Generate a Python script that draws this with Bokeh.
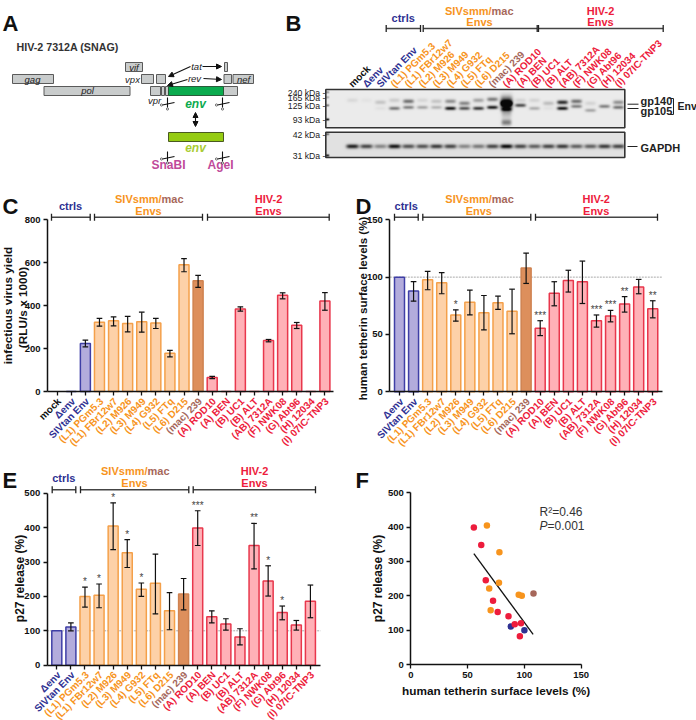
from bokeh.plotting import figure
from bokeh.embed import file_html
from bokeh.resources import INLINE
from bokeh.layouts import column, row
from bokeh.core.properties import value
from bokeh.models import Range1d, FixedTicker, LinearColorMapper, Arrow, NormalHead, LinearAxis
from bokeh.palettes import Greys256
import numpy as np

BLUE, ORANGE, BROWN, RED = "#2e3192", "#f7941d", "#a6675a", "#ed1c3c"
FILL = {BLUE: "#b3acdc", ORANGE: "#fdd1a8", BROWN: "#dd8f5c", RED: "#ffb1b7"}
EDGE = {BLUE: "#3f3fa6", ORANGE: "#f4a04a", BROWN: "#cf8250", RED: "#e8374c"}
FONT = "Liberation Sans"

lanes_all = ["mock", "Δenv", "SIVtan Env", "(L1) PGm5.3", "(L1) FBr12w7", "(L2) M926", "(L3) M949",
             "(L4) G932", "(L5) FTq", "(L6) D215", "(mac) 239", "(A) ROD10", "(A) BEN", "(B) UC1",
             "(B) ALT", "(AB) 7312A", "(F) NWK08", "(G) Abt96", "(H) 12034", "(I) 07IC-TNP3"]
colors_all = ["#111111", BLUE, BLUE] + [ORANGE] * 7 + [BROWN] + [RED] * 9

# panel C
yield_val = [0, 0, 223, 322, 329, 316, 325, 319, 178, 589, 515, 65, 0, 384, 0, 237, 448, 308, 0, 421]
yield_hi = [0, 0, 239, 340, 347, 349, 369, 340, 191, 618, 540, 70, 0, 394, 0, 242, 459, 321, 0, 460]
yield_lo = [0, 0, 208, 304, 305, 277, 276, 293, 161, 557, 484, 60, 0, 374, 0, 231, 431, 293, 0, 378]
# panel D
teth_val = [100, 88, 97.7, 95, 67, 78, 69, 77.6, 70.3, 108, 55.5, 86, 97, 96, 62, 66, 76.5, 91.5, 72.4]
teth_hi = [100, 96, 105, 104, 71.5, 88.7, 84, 83.4, 89.5, 121, 62, 96, 106, 114, 67, 71, 83, 98, 79.4]
teth_lo = [100, 79, 89, 85.5, 61.6, 67, 54, 71.8, 50.6, 94.5, 49, 75, 87, 77, 56.4, 61, 69.5, 85.5, 64.5]
teth_star = ["", "", "", "", "*", "", "", "", "", "", "***", "", "", "", "***", "***", "**", "", "**"]
# panel E
p27_val = [100, 111, 200, 203, 405, 327, 221, 238, 158, 207, 399, 140.5, 120, 82, 348, 245, 153, 117, 186]
p27_hi = [100, 123, 227, 236, 472, 365, 239, 323, 211, 252, 449, 158, 135, 106, 412, 289, 172, 130, 233]
p27_lo = [100, 100, 169, 167, 336, 284, 200, 149, 103, 161, 348, 123, 102, 59, 280, 201, 132, 102, 138]
p27_star = ["", "", "*", "*", "*", "*", "*", "", "", "", "***", "", "", "", "**", "*", "*", "", ""]
# panel F
trend_x = [55.5, 107.7]
trend_y = [323, 88]
# panel B: band strengths per lane
upper_i = [.07, .03, .15, .12, .48, .08, .15, .36, .40, .28, .44, 1.5, .09, .09, .18, .75, .48, .09, .00, .35]
upper_y = [100, 100, 102, 100, 101, 100, 101, 101, 103, 100, 99, 103, 100, 100, 103, 102, 101, 103, 100, 102]
lower_i = [.00, .00, .04, .45, .42, .27, .21, .85, .60, .70, .82, .55, .62, .24, .04, .85, .42, .27, .42, .47]
lower_y = [108, 108, 108, 108, 107, 107, 107, 108, 108, 108, 107, 109, 105, 108, 108, 108, 106, 110, 106, 107]
gapdh_i = [.75, .60, .35, .80, .55, .55, .65, .60, .35, .40, .60, .85, .60, .50, .60, .65, .50, .50, .65, .60]
ladder_ticks = ["240 kDa -", "165 kDa -", "125 kDa -", "93 kDa -", "42 kDa -", "31 kDa -"]
ladder_py = [92, 97, 105, 119, 134, 155]


def base(w, h, xr, yr):
    p = figure(width=w, height=h, x_range=Range1d(*xr), y_range=Range1d(*yr), toolbar_location=None,
               output_backend="svg", min_border=0, min_border_left=0, min_border_right=0,
               min_border_top=0, min_border_bottom=0, outline_line_color=None, x_axis_type=None, y_axis_type=None)
    p.grid.visible = False
    return p


def put(p, x, y, t, color="#111111", size=10, bold=True, italic=False, align="center", base_="middle", angle=0):
    style = ("bold " if bold else "") + ("italic" if italic else "")
    style = style.strip() or "normal"
    p.text([x], [y], text=[t], text_color=color, text_font=value(FONT), text_font_size=f"{size}px",
           text_font_style=style, text_align=align, text_baseline=base_, angle=angle, angle_units="deg")


def style_axis(a):
    a.axis_line_color = "#111111"
    a.axis_line_width = 1.5
    a.major_tick_line_color = "#111111"
    a.major_tick_line_width = 1.3
    a.major_tick_in = 0
    a.major_tick_out = 4
    a.minor_tick_line_color = None
    a.major_label_text_font = FONT
    a.major_label_text_font_style = "bold"
    a.major_label_text_font_size = "9.5px"
    a.major_label_text_color = "#111111"
    a.major_label_standoff = 3


def bar_panel(w, h, ox, oy, x0, dx, y0, sy, ax_l, ax_r, vmax, names, ticks):
    """ox, oy: panel's page origin. x0, dx, y0, sy: where category 0 and value 0 fall on the page."""
    xr = ((ox - x0) / dx, (ox + w - x0) / dx)
    yr = ((y0 - (oy + h)) / sy, (y0 - oy) / sy)
    p = base(w, h, xr, yr)
    p._x = lambda px: (px - x0) / dx
    p._y = lambda py: (y0 - py) / sy
    left = p._x(ax_l)
    ya = LinearAxis(fixed_location=left, bounds=(0, vmax), ticker=FixedTicker(ticks=ticks))
    xa = LinearAxis(fixed_location=0, bounds=(left, p._x(ax_r)), ticker=FixedTicker(ticks=list(range(len(names)))),
                    major_label_overrides={i: "" for i in range(len(names))})
    style_axis(ya)
    style_axis(xa)
    p.add_layout(ya, "left")
    p.add_layout(xa, "below")
    return p, list(range(len(names))), left


def bars(p, idx, vals, hi, lo, cols):
    p.vbar(x=idx, top=vals, bottom=0, width=0.71, fill_color=[FILL.get(c, "#ffffff") for c in cols],
           line_color=[EDGE.get(c, "#ffffff") for c in cols], line_width=1.5)
    ex = [i for i, v in enumerate(vals) if v > 0 and hi[i] != lo[i]]
    p.segment([idx[i] for i in ex], [lo[i] for i in ex], [idx[i] for i in ex], [hi[i] for i in ex],
              line_color="#111111", line_width=1.2)
    for arr in (hi, lo):
        p.segment([idx[i] - .2 for i in ex], [arr[i] for i in ex], [idx[i] + .2 for i in ex], [arr[i] for i in ex],
                  line_color="#111111", line_width=1.2)


def cat_labels(p, idx, names, cols, ax_py):
    for i, n, c in zip(idx, names, cols):
        put(p, i + 0.15, p._y(ax_py + 8), n, color=c, size=10, align="right", angle=45)


def bracket(p, x1, x2, py):
    y = p._y(py)
    a, b = p._x(x1), p._x(x2)
    tip = abs(p._y(py + 3.5) - y)
    p.segment([a], [y], [b], [y], line_color="#444444", line_width=1.4)
    p.segment([a, b], [y - tip, y - tip], [a, b], [y + tip, y + tip], line_color="#222222", line_width=1.3)


def heads(p, cx, y_ctrl, siv_cx, hiv_cx, y1, y2, spans, by):
    put(p, p._x(cx), p._y(y_ctrl), "ctrls", color=BLUE, size=11)
    split = siv_cx + 13
    put(p, p._x(split), p._y(y1), "SIVsmm/", color=ORANGE, size=11, align="right")
    put(p, p._x(split), p._y(y1), "mac", color=BROWN, size=11, align="left")
    put(p, p._x(siv_cx), p._y(y2), "Envs", color=ORANGE, size=11)
    put(p, p._x(hiv_cx), p._y(y1), "HIV-2", color=RED, size=11)
    put(p, p._x(hiv_cx), p._y(y2), "Envs", color=RED, size=11)
    for s in spans:
        bracket(p, s[0], s[1], by)


def stars(p, idx, hi, st):
    for i, s in zip(idx, st):
        if s:
            put(p, i, hi[i], s, color="#444444", size=10, base_="bottom", bold=False)


# ---- panel C
pC, iC, _ = bar_panel(345, 267, 0, 185, 56.7, 14.09, 391, 172 / 800, 47, 333, 800, lanes_all, [0, 200, 400, 600, 800])
bars(pC, iC, yield_val, yield_hi, yield_lo, colors_all)
cat_labels(pC, iC, lanes_all, colors_all, 391)
heads(pC, 70, 205, 148, 268, 198, 210, [(51, 89.7), (94, 202), (207, 328.7)], 216.7)
put(pC, pC._x(2), pC._y(206), "C", size=22, base_="alphabetic", align="left")
put(pC, pC._x(7), pC._y(305), "infectious virus yield", size=11.8, angle=90)
put(pC, pC._x(22), pC._y(307), "(RLU/s x 1000)", size=11.8, angle=90)

# ---- panel D
nD, cD = lanes_all[1:], colors_all[1:]
pD, iD, lD = bar_panel(351, 267, 345, 185, 399, 14.07, 391.3, 172 / 150, 389.3, 661.7, 150, nD, [0, 50, 100, 150])
pD.line([lD, pD._x(661.7)], [100, 100], line_color="#aaaaaa", line_width=1, line_dash="2 1")
bars(pD, iD, teth_val, teth_hi, teth_lo, cD)
cat_labels(pD, iD, nD, cD, 391.3)
stars(pD, iD, teth_hi, teth_star)
heads(pD, 405.7, 205, 478.3, 595.7, 198, 210, [(394, 417.7), (422.3, 530.3), (535, 657)], 216.7)
put(pD, pD._x(355), pD._y(206), "D", size=22, base_="alphabetic", align="left")
put(pD, pD._x(362), pD._y(308), "human tetherin surface levels (%)", size=11.5, angle=90)

# ---- panel E
pE, iE, lE = bar_panel(345, 268, 0, 452, 56.3, 14.09, 664.7, 172 / 500, 46.7, 320, 500, nD, [0, 100, 200, 300, 400, 500])
pE.line([lE, pE._x(320)], [100, 100], line_color="#aaaaaa", line_width=1, line_dash="2 1")
bars(pE, iE, p27_val, p27_hi, p27_lo, cD)
cat_labels(pE, iE, nD, cD, 664.7)
stars(pE, iE, p27_hi, p27_star)
heads(pE, 63.3, 477.3, 134, 254, 470.7, 482, [(51.7, 75.3), (80, 188.3), (192.7, 315)], 489.3)
put(pE, pE._x(2), pE._y(480), "E", size=22, base_="alphabetic", align="left")
put(pE, pE._x(19), pE._y(578), "p27 release (%)", size=12, angle=90)

# ---- panel F
fx0, fdx, fy0, fsy = 410.3, 170.4 / 150, 664, 171.7 / 500
pF = base(351, 268, ((345 - fx0) / fdx, (696 - fx0) / fdx), ((fy0 - 720) / fsy, (fy0 - 452) / fsy))
pF._x = lambda px: (px - fx0) / fdx
pF._y = lambda py: (fy0 - py) / fsy
fax = LinearAxis(fixed_location=0, bounds=(0, 150), ticker=FixedTicker(ticks=[0, 50, 100, 150]))
fay = LinearAxis(fixed_location=0, bounds=(0, 500), ticker=FixedTicker(ticks=[0, 100, 200, 300, 400, 500]))
style_axis(fax)
style_axis(fay)
pF.add_layout(fax, "below")
pF.add_layout(fay, "left")
pF.line(trend_x, trend_y, line_color="#111111", line_width=1.3)
pF.scatter(teth_val, p27_val, size=6.5, color=cD, line_color=None)
put(pF, pF._x(355), pF._y(480), "F", size=22, base_="alphabetic", align="left")
put(pF, pF._x(495.7), pF._y(690), "human tetherin surface levels (%)", size=11.8)
put(pF, pF._x(377), pF._y(578), "p27 release (%)", size=12, angle=90)
put(pF, pF._x(539), pF._y(511.7), "R²=0.46", color="#333333", size=12, bold=False, align="left")
put(pF, pF._x(539), pF._y(525.7), "P", color="#333333", size=12, bold=False, italic=True, align="left")
put(pF, pF._x(547), pF._y(525.7), "=0.001", color="#333333", size=12, bold=False, align="left")

# ---- panel A (schematic in page pixels, y flipped into 720-py)
Y = lambda py: 720 - py
pA = base(280, 185, (0, 280), (720 - 185, 720))
GR, ED = "#c9cccc", "#5a5a5a"
boxes_gray = [(12, 53, 74, 83), (43.5, 129.5, 86, 95), (125, 142, 62, 71), (141, 153, 74, 83), (156, 165, 74, 83),
              (150, 160, 86, 95), (161, 164, 86, 95), (165, 168, 86, 95), (223, 237, 86, 95), (223.5, 231, 74, 83),
              (232.5, 253, 74, 83), (224, 227, 62, 71)]
pA.quad(left=[b[0] for b in boxes_gray], right=[b[1] for b in boxes_gray], top=[Y(b[2]) for b in boxes_gray],
        bottom=[Y(b[3]) for b in boxes_gray], fill_color=GR, line_color=ED, line_width=1)
pA.quad(left=[168], right=[223], top=[Y(86)], bottom=[Y(95)], fill_color="#0bab4e", line_color="#2a5a3a", line_width=1)
pA.quad(left=[168], right=[223], top=[Y(132)], bottom=[Y(141)], fill_color="#95cc12", line_color="#4a5a20", line_width=1)
put(pA, 2, Y(23), "A", size=22, base_="alphabetic", align="left")
put(pA, 16, Y(46), "HIV-2 7312A (SNAG)", color="#333333", size=10.7, align="left")
for x, y, t in [(133.5, 66.7, "vif"), (32, 78.7, "gag"), (87, 90, "pol"), (243, 79, "nef"), (196, 66, "tat"),
                (194, 78, "rev"), (154, 100, "vpr"), (132, 78.5, "vpx")]:
    put(pA, x, Y(y), t, color="#222222", size=9.5, bold=False, italic=True)
put(pA, 195, Y(103), "env", color="#0bab4e", size=12, italic=True)
put(pA, 195, Y(147), "env", color="#a9cc33", size=12, italic=True)
put(pA, 168, Y(164), "SnaBI", color="#bf4a9a", size=12)
put(pA, 220, Y(164), "AgeI", color="#bf4a9a", size=12)
for (x1, y1, x2, y2) in [(190, 66, 168, 76), (202, 66, 221, 66), (187, 79, 167, 85), (203, 78, 221, 79)]:
    pA.add_layout(Arrow(end=NormalHead(size=5, fill_color="#111111", line_color="#111111"), x_start=x1, y_start=Y(y1),
                        x_end=x2, y_end=Y(y2), line_color="#111111", line_width=1.1))
pA.add_layout(Arrow(start=NormalHead(size=5, fill_color="#111111", line_color="#111111"),
                    end=NormalHead(size=5, fill_color="#111111", line_color="#111111"), x_start=195, y_start=Y(112),
                    x_end=195, y_end=Y(126), line_color="#111111", line_width=1.1))
for sx, sy in [(167, 103), (222, 103), (167, 157), (222, 157)]:
    pA.segment([sx - 5, sx], [Y(sy + 1.5), Y(sy - 6)], [sx + 7, sx], [Y(sy - 1), Y(sy + 4)], line_color="#111111", line_width=1.1)
    pA.circle([sx - 6, sx], [Y(sy + 1.5), Y(sy + 5.5)], radius=1.1, fill_color="white", line_color="#333333", line_width=.7)

# ---- panel B
pB = base(416, 185, (280, 696), (720 - 185, 720))
lane_x = [351.7 + 14.0 * i for i in range(20)]
res = 2
def blot(x1, x2, py1, py2):
    xs = x1 + (np.arange(int((x2 - x1) * res)) + .5) / res
    ys = py1 + (np.arange(int((py2 - py1) * res)) + .5) / res
    xx, yy = np.meshgrid(xs, ys)
    return xx, yy, np.zeros_like(xx)
def band(dark, xx, yy, lx, py, i, hw=5.4, sig=1.5):
    dark += i * np.exp(-((xx - lx) / hw) ** 4) * np.exp(-((yy - py) / sig) ** 2)

b1 = (325.3, 624.3, 89, 127.3)
xx, yy, dk = blot(*b1)
for lx, i1, y1, i2, y2 in zip(lane_x, upper_i, upper_y, lower_i, lower_y):
    band(dk, xx, yy, lx, y1, i1, sig=2.0)
    band(dk, xx, yy, lx, y2, i2, sig=1.7)
band(dk, xx, yy, lane_x[11], 103, 1.0, hw=6, sig=6)
band(dk, xx, yy, lane_x[11], 122, .42, hw=5, sig=3)
band(dk, xx, yy, lane_x[11], 112, .2, hw=5, sig=6)
for py, s in [(92, .4), (97, .3), (105, .5), (119, 1.)]:
    band(dk, xx, yy, 326.5, py, s, hw=2, sig=1)
img1 = np.clip(0.92 - dk, 0.03, 1)[::-1]

b2 = (325.3, 624.3, 131.7, 157)
xx, yy, dk = blot(*b2)
for lx, i1 in zip(lane_x, gapdh_i):
    band(dk, xx, yy, lx, 146, i1, hw=6.2, sig=2.1)
for py, s in [(134, .5), (155, .9)]:
    band(dk, xx, yy, 326.5, py, s, hw=2, sig=1)
img2 = np.clip(0.88 - dk, 0.05, 1)[::-1]

mapper = LinearColorMapper(palette=Greys256, low=0, high=1)
for im, b in [(img1, b1), (img2, b2)]:
    pB.image(image=[im], x=b[0], y=Y(b[3]), dw=b[1] - b[0], dh=b[3] - b[2], color_mapper=mapper)
    pB.quad(left=[b[0]], right=[b[1]], top=[Y(b[2])], bottom=[Y(b[3])], fill_color=None, line_color="#333333", line_width=1.6)

put(pB, 285, Y(23), "B", size=22, base_="alphabetic", align="left")
for t, py in zip(ladder_ticks, ladder_py):
    put(pB, 325, Y(py), t, color="#222222", size=8.7, bold=False, align="right")
for lx, n, c in zip(lane_x, lanes_all, colors_all):
    put(pB, lx - 2, Y(85), n, color=c, size=10, align="left", angle=45)
put(pB, 402.7, Y(17), "ctrls", color=BLUE, size=11)
put(pB, 491, Y(10), "SIVsmm/", color=ORANGE, size=11, align="right")
put(pB, 491, Y(10), "mac", color=BROWN, size=11, align="left")
put(pB, 479, Y(21), "Envs", color=ORANGE, size=11)
put(pB, 600, Y(10), "HIV-2", color=RED, size=11)
put(pB, 600, Y(21), "Envs", color=RED, size=11)
for a, b in [(385.7, 420), (422.7, 536.7), (538, 662.7)]:
    pB.segment([a], [Y(28)], [b], [Y(28)], line_color="#444444", line_width=1.4)
    pB.segment([a, b], [Y(24.5)] * 2, [a, b], [Y(31.5)] * 2, line_color="#222222", line_width=1.3)
put(pB, 640, Y(100.5), "gp140", color="#222222", size=11, align="left")
put(pB, 640, Y(110.5), "gp105", color="#222222", size=11, align="left")
put(pB, 677, Y(105), "Env", color="#222222", size=10.5, align="left")
put(pB, 640, Y(147), "GAPDH", color="#222222", size=11, align="left")
pB.segment([627, 627, 627], [Y(103.7), Y(108), Y(146)], [638, 638, 637], [Y(103.7), Y(108), Y(146)],
           line_color="#222222", line_width=1)
pB.line([669, 673, 673, 669], [Y(98), Y(98), Y(114), Y(114)], line_color="#222222", line_width=1)

page = column(row(pA, pB, spacing=0), row(pC, pD, spacing=0), row(pE, pF, spacing=0), spacing=0)
open("out.html", "w").write(file_html(page, INLINE))
